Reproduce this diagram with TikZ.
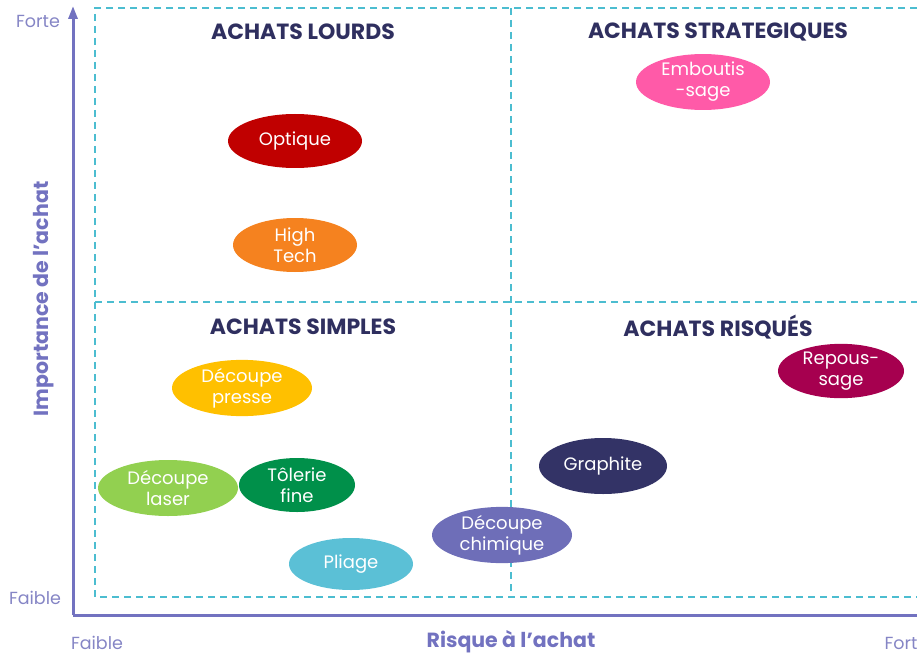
\documentclass[tikz,border=0pt]{standalone}
\usepackage{fontspec}
\setmainfont{Poppins}
\usetikzlibrary{arrows.meta,shapes.geometric}
\definecolor{axiscol}{HTML}{7272C0}
\definecolor{lblcol}{HTML}{8585C5}
\definecolor{dashcol}{HTML}{4CBDD0}
\definecolor{titlecol}{HTML}{2F2F5F}
\definecolor{cOptique}{HTML}{C00000}
\definecolor{cHigh}{HTML}{F5821F}
\definecolor{cEmb}{HTML}{FF5AA8}
\definecolor{cPresse}{HTML}{FFC000}
\definecolor{cLaser}{HTML}{92D050}
\definecolor{cTol}{HTML}{00904A}
\definecolor{cPliage}{HTML}{5BC0D6}
\definecolor{cChim}{HTML}{6E6EB8}
\definecolor{cGraph}{HTML}{333366}
\definecolor{cRep}{HTML}{A6004F}
\tikzset{
  blob/.style={ellipse, inner sep=0pt, text=white, font=\fontsize{18}{21}\selectfont, align=center},
  quadtitle/.style={text=titlecol, font=\fontsize{22}{24}\selectfont\bfseries},
  axlbl/.style={text=lblcol, font=\fontsize{17.5}{19}\selectfont},
  axtitle/.style={text=axiscol, font=\fontsize{20.5}{22}\selectfont\bfseries},
  grid/.style={dashcol, dashed, dash pattern=on 7pt off 5pt, line width=1.3pt}
}
\begin{document}
\begin{tikzpicture}[x=1pt,y=-1pt]
\useasboundingbox (0,0) rectangle (917,655);
% dashed grid
\draw[grid] (917,8) -- (95,8) -- (95,597) -- (917,597);
\draw[grid] (511,8) -- (511,597);
\draw[grid] (95,302) -- (917,302);
% axes
\coordinate (o) at (73,615);
\coordinate (top) at (73,6);
\coordinate (right) at (917,615);
\draw[axiscol, line width=3pt, -{Triangle[length=13pt,width=9pt]}] (o) -- (top);
\draw[axiscol, line width=3pt] (o) -- (right);
% titles
\node[quadtitle] (t1) at (303,32) {ACHATS LOURDS};
\node[quadtitle] (t2) at (718,32) {ACHATS STRATEGIQUES};
\node[quadtitle] (t3) at (303,327) {ACHATS SIMPLES};
\node[quadtitle] (t4) at (718,327) {ACHATS RISQUÉS};
% axis labels
\node[axlbl] (forte) at (38,21) {Forte};
\node[axlbl] (faible1) at (35,598) {Faible};
\node[axlbl] (faible2) at (97,643) {Faible};
\node[axlbl, anchor=east] (fort) at (921,643) {Fort};
\node[axtitle] (xt) at (511,642) {Risque à l’achat};
\node[axtitle, rotate=90] (yt) at (44,299) {Importance de l’achat};
% ellipses
\node[blob, fill=cOptique, minimum width=134pt, minimum height=54pt] (optique) at (295,141) {Optique};
\node[blob, fill=cHigh, minimum width=124pt, minimum height=54pt] (hightech) at (295,245) {High\\Tech};
\node[blob, fill=cEmb, minimum width=134pt, minimum height=54pt] (emb) at (703,82) {Emboutis\\-sage};
\node[blob, fill=cPresse, minimum width=140pt, minimum height=55pt] (presse) at (242,388) {Découpe\\presse};
\node[blob, fill=cLaser, minimum width=140pt, minimum height=56pt] (laser) at (168,488) {Découpe\\laser};
\node[blob, fill=cTol, minimum width=116pt, minimum height=54pt] (tol) at (297,485) {Tôlerie\\fine};
\node[blob, fill=cPliage, minimum width=124pt, minimum height=52pt] (pliage) at (351,564) {Pliage};
\node[blob, fill=cChim, minimum width=140pt, minimum height=56pt] (chim) at (502,535) {Découpe\\chimique};
\node[blob, fill=cGraph, minimum width=128pt, minimum height=56pt] (graph) at (603,466) {Graphite};
\node[blob, fill=cRep, minimum width=126pt, minimum height=54pt] (rep) at (841,371) {Repous-\\sage};
\end{tikzpicture}
\end{document}
